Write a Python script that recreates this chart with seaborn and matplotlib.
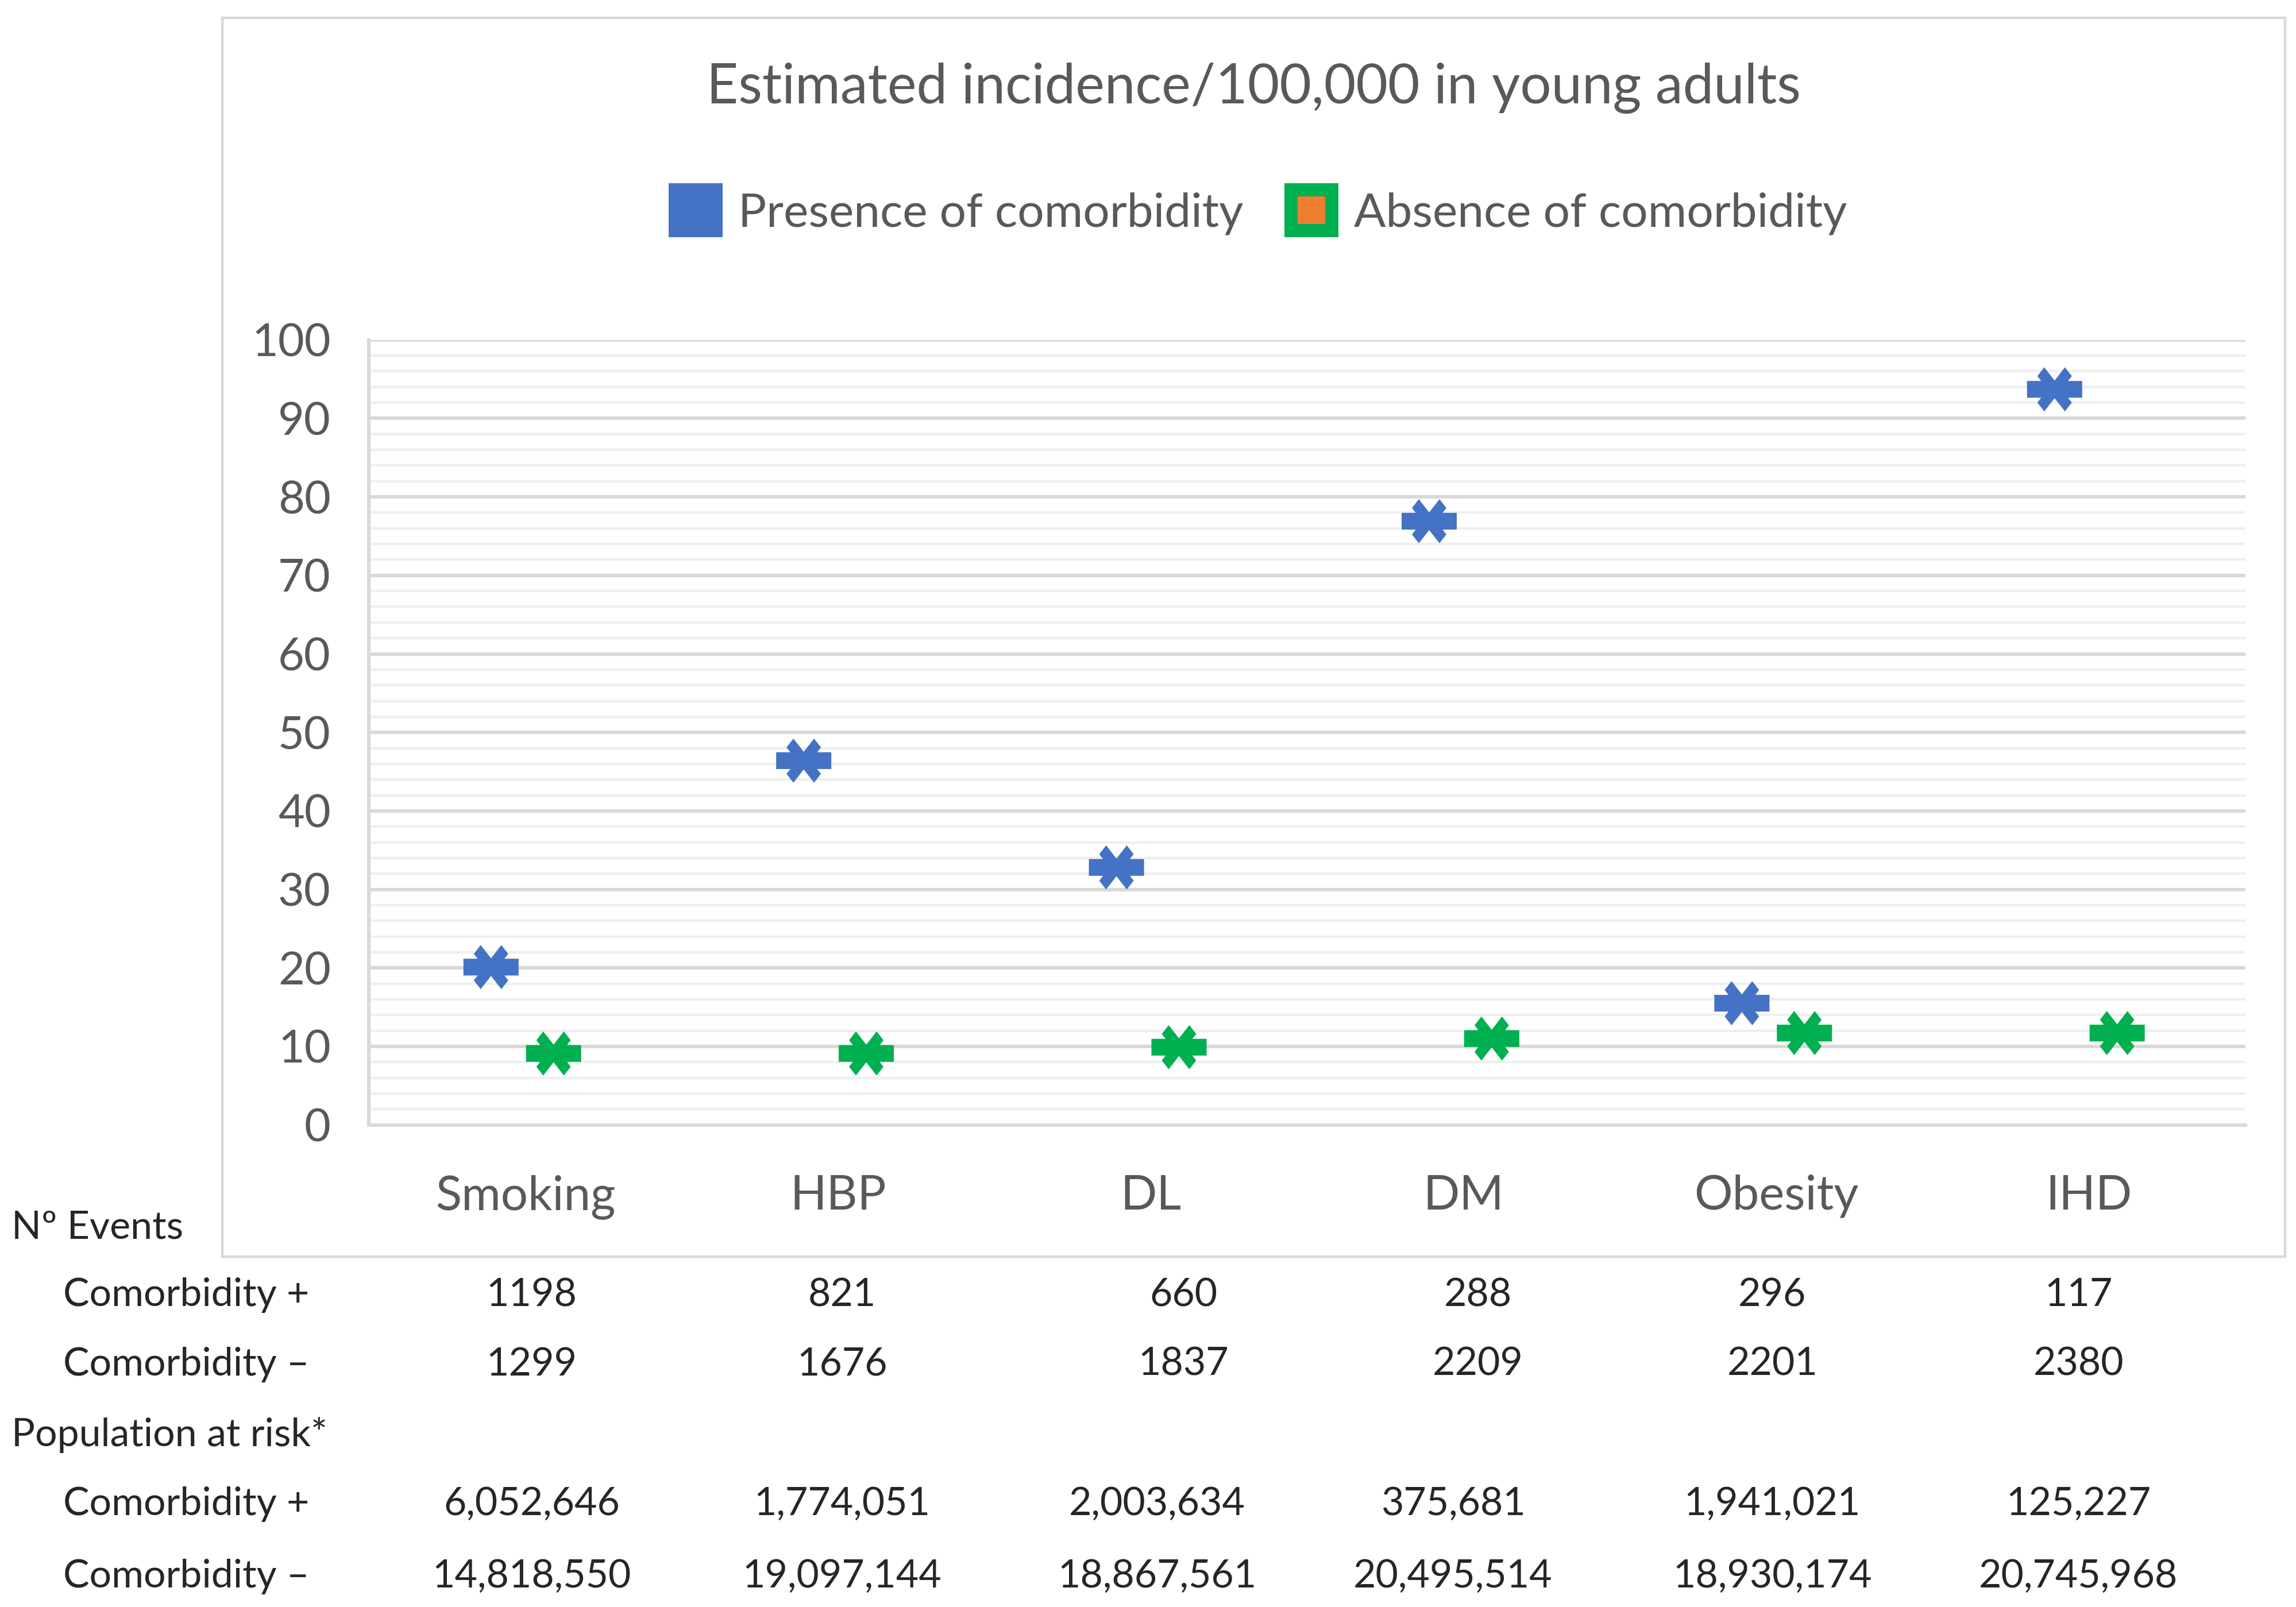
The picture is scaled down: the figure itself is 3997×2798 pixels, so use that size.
import numpy as np
import pandas as pd
import seaborn as sns
import matplotlib.pyplot as plt
from matplotlib.path import Path
from matplotlib.lines import Line2D
from matplotlib.patches import Rectangle
from matplotlib.legend_handler import HandlerTuple
from matplotlib.ticker import MultipleLocator

categories = ['Smoking', 'HBP', 'DL', 'DM', 'Obesity', 'IHD']
presence = [20.1, 46.4, 32.8, 76.9, 15.5, 93.7]
absence = [9.1, 9.1, 9.9, 11.0, 11.7, 11.7]

events_pos = [1198, 821, 660, 288, 296, 117]
events_neg = [1299, 1676, 1837, 2209, 2201, 2380]
pop_pos = [6052646, 1774051, 2003634, 375681, 1941021, 125227]
pop_neg = [14818550, 19097144, 18867561, 20495514, 18930174, 20745968]

groups = ['Presence of comorbidity', 'Absence of comorbidity']
colors = {'Presence of comorbidity': '#4472C4', 'Absence of comorbidity': '#00B050'}
offsets = {'Presence of comorbidity': -0.11, 'Absence of comorbidity': 0.09}

sns.set_style('white')
plt.rcParams['font.family'] = ['Lato', 'DejaVu Sans']

df = pd.DataFrame({
    'category': categories * 2,
    'idx': list(range(len(categories))) * 2,
    'group': [groups[0]] * len(categories) + [groups[1]] * len(categories),
    'value': presence + absence,
})
df['pos'] = df['idx'] + df['group'].map(offsets)


# asterisk-like marker: thick X plus a horizontal bar
def area(v):
    x, y = v[:, 0], v[:, 1]
    return 0.5 * np.sum(x * np.roll(y, -1) - np.roll(x, -1) * y)


c = 1.2
xv = np.array([(-c, -2), (0, -2 + c), (c, -2), (2, -c), (2 - c, 0), (2, c),
               (c, 2), (0, 2 - c), (-c, 2), (-2, c), (-2 + c, 0), (-2, -c)]) / 4.0
xv[:, 0] *= 0.78
if area(xv) < 0:
    xv = xv[::-1]
bar = np.array([(-0.625, -0.19), (0.625, -0.19), (0.625, 0.19), (-0.625, 0.19)])
verts, codes = [], []
for poly in (xv, bar):
    verts += list(poly) + [poly[0]]
    codes += [Path.MOVETO] + [Path.LINETO] * (len(poly) - 1) + [Path.CLOSEPOLY]
star = Path(np.array(verts), codes)

fig = plt.figure(figsize=(19.99, 13.99), dpi=200)
ax = fig.add_axes([0.1607, 0.300, 0.817, 0.4885])

sns.scatterplot(data=df, x='pos', y='value', hue='group', palette=colors,
                marker=star, s=1195, linewidth=0, legend=False, ax=ax, zorder=3)

ax.set_xlim(-0.5, 5.5)
ax.set_ylim(0, 100)
ax.yaxis.set_major_locator(MultipleLocator(10))
ax.yaxis.set_minor_locator(MultipleLocator(2))
ax.set_xticks(range(len(categories)))
ax.set_xticklabels(categories)
ax.set_xlabel('')
ax.set_ylabel('')
ax.set_axisbelow(True)
ax.grid(False)
ax.yaxis.grid(True, which='minor', color='#EFEFEF', lw=1.6)
ax.yaxis.grid(True, which='major', color='#D9D9D9', lw=2.2)
ax.tick_params(axis='y', which='both', length=0, pad=24, labelsize=28.5, labelcolor='#595959')
ax.tick_params(axis='x', length=0, pad=31, labelsize=30, labelcolor='#595959')
for s in ['top', 'right']:
    ax.spines[s].set_visible(False)
for s in ['left', 'bottom']:
    ax.spines[s].set_color('#D9D9D9')
    ax.spines[s].set_linewidth(2.2)

# chart frame
fig.patches.append(Rectangle((0.0969, 0.2179), 0.898, 0.771, transform=fig.transFigure,
                             fill=False, edgecolor='#D9D9D9', lw=1.6))

fig.text(0.546, 0.945, 'Estimated incidence/100,000 in young adults',
         ha='center', va='center', fontsize=34.5, color='#595959')

h_pres = Line2D([], [], ls='', marker='s', markersize=34, color=colors[groups[0]], mew=0)
h_abs_out = Line2D([], [], ls='', marker='s', markersize=34, color=colors[groups[1]], mew=0)
h_abs_in = Line2D([], [], ls='', marker='s', markersize=17, color='#ED7D31', mew=0)
leg = fig.legend([h_pres, (h_abs_out, h_abs_in)], groups, loc='center',
                 bbox_to_anchor=(0.548, 0.867), ncol=2, frameon=False, fontsize=29.5,
                 handlelength=1.1, handletextpad=0.35, columnspacing=0.9,
                 handler_map={tuple: HandlerTuple(ndivide=1, pad=0)})
for t in leg.get_texts():
    t.set_color('#595959')

# table below the chart
row_y = [0.236, 0.194, 0.151, 0.107, 0.064, 0.019]
ev_x = [0.2315, 0.3667, 0.5153, 0.6435, 0.7717, 0.9050]
pop_x = [0.2315, 0.3667, 0.5038, 0.6327, 0.7717, 0.9050]
tfs = 24.5
fig.text(0.0051, row_y[0], 'Nº Events', ha='left', va='center', fontsize=tfs)
fig.text(0.0274, row_y[1], 'Comorbidity +', ha='left', va='center', fontsize=tfs)
fig.text(0.0274, row_y[2], 'Comorbidity –', ha='left', va='center', fontsize=tfs)
fig.text(0.0051, row_y[3], 'Population at risk*', ha='left', va='center', fontsize=tfs)
fig.text(0.0274, row_y[4], 'Comorbidity +', ha='left', va='center', fontsize=tfs)
fig.text(0.0274, row_y[5], 'Comorbidity –', ha='left', va='center', fontsize=tfs)
for i in range(len(categories)):
    fig.text(ev_x[i], row_y[1], str(events_pos[i]), ha='center', va='center', fontsize=tfs)
    fig.text(ev_x[i], row_y[2], str(events_neg[i]), ha='center', va='center', fontsize=tfs)
    fig.text(pop_x[i], row_y[4], f'{pop_pos[i]:,}', ha='center', va='center', fontsize=tfs)
    fig.text(pop_x[i], row_y[5], f'{pop_neg[i]:,}', ha='center', va='center', fontsize=tfs)

fig.savefig('out.png', dpi=200)
